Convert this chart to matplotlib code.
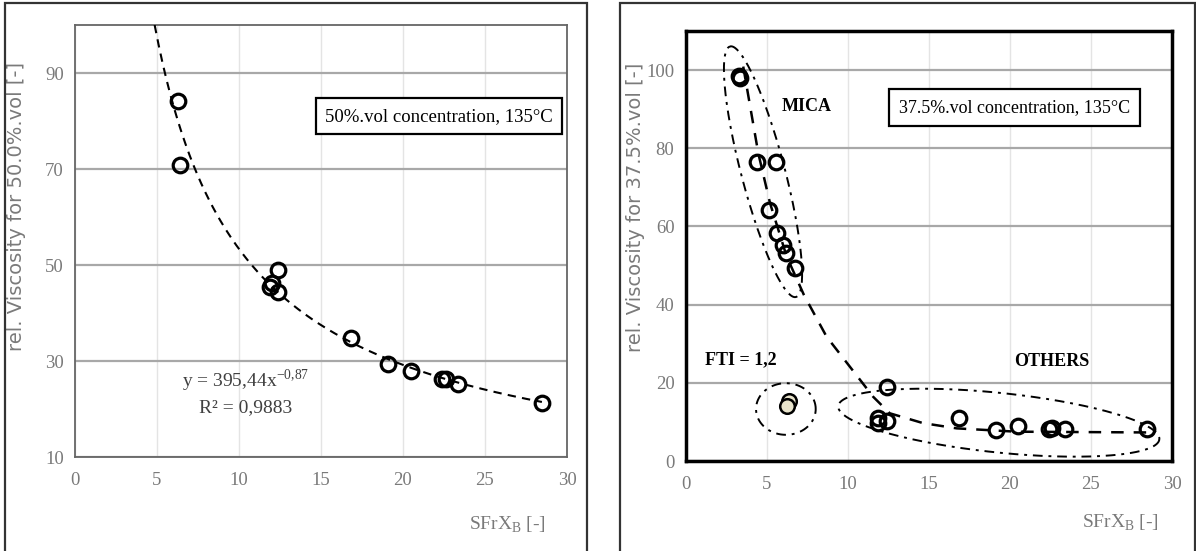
import numpy as np
import matplotlib.pyplot as plt
from matplotlib.patches import Rectangle

plt.rcParams['font.family'] = ['Liberation Serif', 'DejaVu Serif']
plt.rcParams['mathtext.fontset'] = 'custom'
plt.rcParams['mathtext.rm'] = 'Liberation Serif'

# left panel: 50 %vol
x50 = [6.27, 6.39, 11.9, 12.0, 12.4, 12.4, 16.84, 19.1, 20.5, 22.4, 22.6, 23.37, 28.47]
y50 = [84.1, 70.9, 45.5, 46.2, 49.0, 44.4, 34.7, 29.4, 27.9, 26.3, 26.3, 25.2, 21.3]
fit_a, fit_b = 395.44, -0.87

# right panel: 37.5 %vol
x_mica = [3.3, 3.36, 4.39, 5.58, 5.17, 5.66, 5.99, 6.18, 6.75]
y_mica = [98.6, 98.0, 76.6, 76.6, 64.2, 58.4, 55.3, 53.3, 49.3]
x_fti = [6.4, 6.28]
y_fti = [15.4, 14.1]
x_oth = [11.89, 11.9, 12.4, 12.4, 16.88, 19.12, 20.52, 22.41, 22.58, 23.4, 28.43]
y_oth = [11.0, 9.6, 10.3, 19.0, 10.9, 7.9, 8.95, 8.2, 8.5, 8.2, 8.1]
# hand drawn dashed trend
trend_x = [3.56, 4.49, 5.21, 6.24, 7.3, 8.7, 10.14, 11.58, 12.6, 14.64, 16.72, 20.4, 28.6]
trend_y = [100.9, 78.7, 66.0, 52.3, 42.5, 31.8, 24.1, 16.4, 12.2, 9.7, 8.35, 7.5, 7.3]
# group ellipses: centre, half major vector, half minor vector (data units)
ell_mica = [(4.78, 74.0), (-2.03, 32.05), (1.30, 1.42)]
ell_fti = [(6.19, 13.3), (1.84, 0.0), (0.0, 6.6)]
ell_oth = [(19.32, 9.8), (9.9, -4.26), (-0.19, -7.58)]

W, H = 1196, 551
fig = plt.figure(figsize=(W / 100, H / 100), dpi=100)
fig.patch.set_facecolor('white')

# outer frames
fig.patches.append(Rectangle((5 / W, -0.01), 582 / W, 1 - 3 / H + 0.01, transform=fig.transFigure,
                             fill=False, ec='#333333', lw=1.6))
fig.patches.append(Rectangle((620 / W, -0.01), 575 / W, 1 - 3 / H + 0.01, transform=fig.transFigure,
                             fill=False, ec='#333333', lw=1.6))

ax1 = fig.add_axes([75 / W, (H - 457) / H, 492 / W, 432 / H])
ax2 = fig.add_axes([685.5 / W, (H - 461) / H, 486.5 / W, 430 / H])

gray = '#7a7a7a'
for ax in (ax1, ax2):
    ax.set_xlim(0, 30)
    ax.set_xticks(range(0, 31, 5))
    ax.tick_params(length=0, labelcolor=gray, labelsize=13.5)
    ax.tick_params(axis='x', pad=11)
    ax.tick_params(axis='y', pad=8)
    ax.grid(axis='x', color='#e4e4e4', lw=1.0)
    ax.grid(axis='y', color='#a8a8a8', lw=1.6)
    ax.set_axisbelow(True)

ax1.set_ylim(10, 100)
ax1.set_yticks([10, 30, 50, 70, 90])
for s in ax1.spines.values():
    s.set_color('#666666')
    s.set_linewidth(1.3)

ax2.set_ylim(0, 110)
ax2.set_yticks(range(0, 101, 20))
for s in ax2.spines.values():
    s.set_color('black')
    s.set_linewidth(2.5)

circ = dict(ls='none', marker='o', ms=10.5, mfc='none', mec='black', mew=2.3, zorder=5)

# ---- left
xf = np.linspace((100 / fit_a) ** (1 / fit_b), max(x50), 300)
ax1.plot(xf, fit_a * xf ** fit_b, color='black', lw=1.5, dashes=(4, 3), zorder=3)
ax1.plot(x50, y50, **circ)
ax1.text(10.4, 26.0, r'y = 395,44x$^{\mathregular{-0{,}87}}$', ha='center', va='center',
         fontsize=14, color='#404040')
ax1.text(10.4, 20.3, 'R² = 0,9883', ha='center', va='center', fontsize=14, color='#404040')
ax1.text(22.2, 81.0, '50%.vol concentration, 135°C', ha='center', va='center', fontsize=13.5,
         color='black', bbox=dict(boxstyle='square,pad=0.5', fc='white', ec='black', lw=1.6))
ax1.text(-0.118, 0.579, 'rel. Viscosity for 50.0%.vol [-]', transform=ax1.transAxes, rotation=90,
         ha='center', va='center', fontsize=14, color=gray, family=['DejaVu Sans'])
ax1.text(0.88, -0.157, r'SFrX$_{\mathregular{B}}$ [-]', transform=ax1.transAxes,
         ha='center', va='center', fontsize=14, color=gray)

# ---- right
ax2.plot(trend_x, trend_y, color='black', lw=1.8, dashes=(5, 4), zorder=3)
t = np.linspace(0, 2 * np.pi, 300)
for (c, a, b) in (ell_mica, ell_fti, ell_oth):
    ex = c[0] + a[0] * np.cos(t) + b[0] * np.sin(t)
    ey = c[1] + a[1] * np.cos(t) + b[1] * np.sin(t)
    ax2.plot(ex, ey, color='black', lw=1.4, dashes=(5, 3, 1.5, 3), zorder=4)
ax2.plot(x_mica, y_mica, **circ)
ax2.plot(x_oth, y_oth, **circ)
ax2.plot(x_fti, y_fti, ls='none', marker='o', ms=10.5, mfc='#e9e4cc', mec='black', mew=1.8, zorder=5)
ax2.text(7.47, 90.6, 'MICA', ha='center', va='center', fontsize=13, fontweight='bold')
ax2.text(3.4, 25.8, 'FTI = 1,2', ha='center', va='center', fontsize=13, fontweight='bold')
ax2.text(22.6, 25.4, 'OTHERS', ha='center', va='center', fontsize=13, fontweight='bold')
ax2.text(20.3, 90.4, '37.5%.vol concentration, 135°C', ha='center', va='center', fontsize=13,
         color='black', bbox=dict(boxstyle='square,pad=0.55', fc='white', ec='black', lw=1.6))
ax2.text(-0.102, 0.59, 'rel. Viscosity for 37.5%.vol [-]', transform=ax2.transAxes, rotation=90,
         ha='center', va='center', fontsize=14, color=gray, family=['DejaVu Sans'])
ax2.text(0.895, -0.144, r'SFrX$_{\mathregular{B}}$ [-]', transform=ax2.transAxes,
         ha='center', va='center', fontsize=14, color=gray)

fig.savefig('out.png', dpi=100)
